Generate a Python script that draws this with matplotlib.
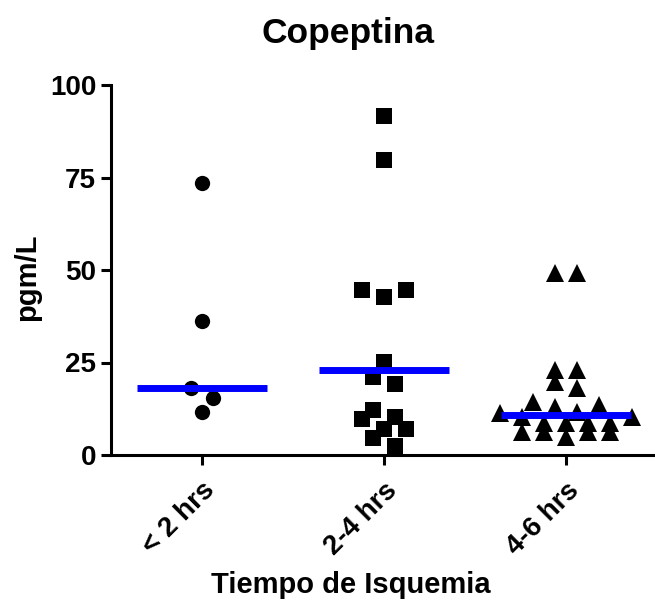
import numpy as np
import matplotlib
matplotlib.use('Agg')
import matplotlib.pyplot as plt

# ---- data ----
categories = ['< 2 hrs', '2-4 hrs', '4-6 hrs']
lt2_hrs = [73.6, 36.3, 18.2, 15.5, 11.6]
h2_4_hrs = [91.6, 79.7, 44.6, 42.8, 44.6, 25.2, 21.1, 19.2, 10.4, 7.0,
            9.7, 12.2, 7.0, 4.7, 2.5]
h4_6_hrs = [49.2, 49.2, 23.0, 23.0, 19.8, 18.0, 14.4, 13.5, 13.1, 11.7,
            11.3, 10.3, 10.3, 8.6, 8.6, 8.6, 8.6, 6.3, 6.3, 6.3, 6.3, 4.9]
medians = [18.2, 22.9, 10.8]
y_ticks = [0, 25, 50, 75, 100]
title = 'Copeptina'
xlabel = 'Tiempo de Isquemia'
ylabel = 'pgm/L'

groups = [lt2_hrs, h2_4_hrs, h4_6_hrs]
markers = ['o', 's', '^']
marker_sizes = [11.0, 11.5, 12.5]

plt.rcParams['font.family'] = ['Liberation Sans', 'DejaVu Sans']
plt.rcParams['font.weight'] = 'bold'


def swarm_offsets(vals, bin_w, step):
    """Row-based scatter layout: values close together share a row,
    rows are spread symmetrically around the category centre."""
    vals = np.asarray(vals, dtype=float)
    order = np.argsort(vals, kind='stable')
    offs = np.zeros(len(vals))
    i = 0
    while i < len(order):
        start = vals[order[i]]
        j = i
        while j < len(order) and vals[order[j]] - start <= bin_w:
            j += 1
        idx = order[i:j]
        n = len(idx)
        slots = np.arange(n) - (n - 1) / 2.0
        slots = sorted(slots, key=lambda s: (abs(s), -s))
        for k, s in zip(idx, slots):
            offs[k] = s * step
        i = j
    return offs


W, H = 655, 603
fig = plt.figure(figsize=(W / 100, H / 100), dpi=100)
ax = fig.add_axes([111 / W, 1 - 455 / H, 546 / W, 370 / H])

for i, (vals, m, ms) in enumerate(zip(groups, markers, marker_sizes)):
    offs = swarm_offsets(vals, 2.8, 0.121)
    ax.plot(i + offs, vals, linestyle='none', marker=m, markersize=ms,
            color='black', markeredgewidth=0, zorder=2, clip_on=False)

xs = np.arange(len(categories))
ax.hlines(medians, xs - 0.357, xs + 0.357, color='#0000ff', linewidth=5,
          zorder=3)

ax.set_xlim(-0.5, 2.5)
ax.set_ylim(0, 100)
ax.set_yticks(y_ticks)
ax.set_yticklabels([str(t) for t in y_ticks], fontsize=20, fontweight='bold')
ax.set_xticks(xs)
ax.set_xticklabels(categories, fontsize=20, fontweight='bold', rotation=45,
                   ha='right', va='top', rotation_mode='anchor')
for s in ['top', 'right']:
    ax.spines[s].set_visible(False)
for s in ['left', 'bottom']:
    ax.spines[s].set_linewidth(2.2)
ax.tick_params(axis='both', direction='out', length=7.2, width=2.2,
               colors='black')
ax.tick_params(axis='y', pad=3.5)
ax.tick_params(axis='x', pad=9)

fig.text(348 / W, 1 - 43 / H, title, ha='center', va='baseline',
         fontsize=25.5, fontweight='bold')
fig.text(351 / W, 1 - 593 / H, xlabel, ha='center', va='baseline',
         fontsize=21, fontweight='bold')
fig.text(27.5 / W, 1 - 277 / H, ylabel, ha='center', va='center',
         rotation=90, fontsize=21, fontweight='bold')

fig.savefig('out.png', dpi=100)
